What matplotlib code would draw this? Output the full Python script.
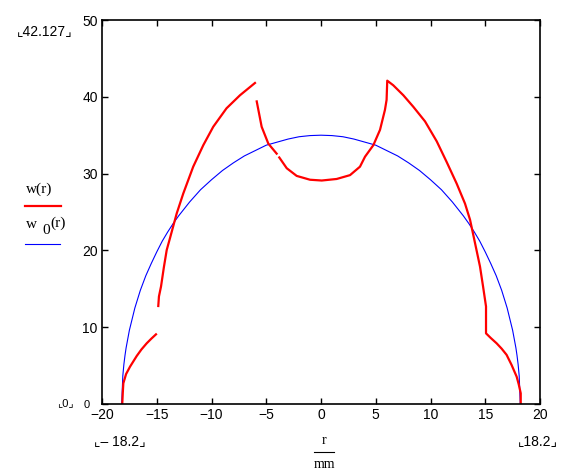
import numpy as np
import matplotlib.pyplot as plt

# w(r) - red curve, nan = gap in the plotted trace
r_w = [-18.15, -18.1, -18.05, -17.8, -17.44, -16.83, -16.4, -15.92, -15.5, -15.07, np.nan,
       -14.86, -14.8, -14.61, -14.35, -14.09, -13.79, -13.18, -12.58, -11.67, -10.75, -9.84, -8.63,
       -7.4, -6.03, np.nan,
       -5.87, -5.42, -4.81, -4.05, np.nan,
       -3.81, -3.13, -2.22, -1.0, 0.07, 1.43, 2.65, 3.56, 4.02, 4.78, 5.39, 5.84, 5.99, 6.05,
       6.6, 7.52, 8.43, 9.5, 10.57, 11.48, 12.39, 13.15, 13.61, 13.97, 14.52, 14.8, 15.07,
       15.07, 15.5, 16.04, 16.5, 16.95, 17.4, 17.87, 18.05, 18.24, 18.24]
w_r = [0, 1.5, 2.7, 3.9, 4.86, 6.25, 7.1, 7.9, 8.5, 9.07, np.nan,
       12.76, 14.0, 15.3, 17.8, 20.05, 21.6, 24.8, 27.4, 30.9, 33.7, 36.1, 38.5,
       40.2, 41.8, np.nan,
       39.4, 36.1, 33.9, 32.6, np.nan,
       32.1, 30.7, 29.7, 29.2, 29.1, 29.3, 29.8, 30.9, 32.2, 33.7, 35.7, 38.3, 39.6, 42.1,
       41.5, 40.2, 38.7, 36.8, 34.2, 31.5, 28.7, 26.1, 24.0, 21.6, 17.9, 15.3, 12.7,
       9.2, 8.6, 7.9, 7.2, 6.4, 5.1, 3.55, 2.6, 1.4, 0]

# w0(r) - blue curve
r_w0 = [-18.2, -18.1, -18.0, -17.9, -17.8, -17.5, -17.0, -16.5, -16.0, -15.5, -15.0, -14.5, -14.0,
        -13.5, -13.0, -12.0, -11.0, -10.0, -9.0, -8.0, -7.0, -6.0, -5.0, -4.0, -3.0, -2.0, -1.0, 0.0,
        1.0, 2.0, 3.0, 4.0, 5.0, 6.0, 7.0, 8.0, 9.0, 10.0, 11.0, 12.0, 13.0, 13.5, 14.0, 14.5, 15.0,
        15.5, 16.0, 16.5, 17.0, 17.5, 17.8, 17.9, 18.0, 18.1, 18.2]
w0_r = [0, 3.66, 5.18, 6.33, 7.3, 9.6, 12.5, 14.8, 16.7, 18.3, 19.8, 21.2, 22.4,
        23.5, 24.5, 26.3, 27.9, 29.2, 30.4, 31.4, 32.3, 33.0, 33.7, 34.1, 34.5, 34.8, 34.95, 35.0,
        34.95, 34.8, 34.5, 34.1, 33.7, 33.0, 32.3, 31.4, 30.4, 29.2, 27.9, 26.3, 24.5, 23.5, 22.4, 21.2, 19.8,
        18.3, 16.7, 14.8, 12.5, 9.6, 7.3, 6.33, 5.18, 3.66, 0]

x_ticks = [-20, -15, -10, -5, 0, 5, 10, 15, 20]
y_ticks = [0, 10, 20, 30, 40, 50]

W, H = 571, 474
fig = plt.figure(figsize=(W / 100, H / 100), dpi=100)
ax = fig.add_axes([102 / W, 1 - 404 / H, 438 / W, 384 / H])

ax.plot(r_w0, w0_r, color='#0000ff', lw=0.8)
ax.plot(r_w, w_r, color='#ff0000', lw=1.6)

ax.set_xlim(-20, 20)
ax.set_ylim(0, 50)
ax.set_xticks(x_ticks)
ax.set_yticks(y_ticks)
ax.set_xticklabels([str(t).replace('-', '\u2212') for t in x_ticks],
                   family='Liberation Sans', fontsize=10)
ax.set_yticklabels([str(t) for t in y_ticks], family='Liberation Sans', fontsize=10)
ax.tick_params(direction='in', length=4, width=1, top=True, right=True, pad=3)
ax.get_yticklabels()[0].set_fontsize(8)
ax.yaxis.get_major_ticks()[0].set_pad(9)
for s in ax.spines.values():
    s.set_linewidth(1.2)

sans = ['Liberation Sans', 'DejaVu Sans']
serif = ['Liberation Serif', 'DejaVu Serif']


def ftext(x, y, s, **kw):
    fig.text(x / W, 1 - y / H, s, **kw)


# range markers
ftext(45, 31, '\u231e42.127\u231f', family=sans, fontsize=10, ha='center', va='center')
ftext(65, 403, '\u231e0\u231f', family=sans, fontsize=8, ha='center', va='center')
ftext(120, 441, '\u231e\u2013 18.2\u231f', family=sans, fontsize=10, ha='center', va='center')
ftext(538, 441, '\u231e18.2\u231f', family=sans, fontsize=10, ha='center', va='center')

# x axis label r/mm
ftext(324, 441, 'r', family=serif, fontsize=10, ha='center', va='center')
fig.add_artist(plt.Line2D([314 / W, 334 / W], [1 - 452 / H, 1 - 452 / H], color='black', lw=0.8))
ftext(324, 464, 'mm', family=serif, fontsize=10, ha='center', va='center')

# legend
ftext(26, 189, 'w(r)', family=serif, fontsize=11, ha='left', va='center')
fig.add_artist(plt.Line2D([25 / W, 61 / W], [1 - 205.5 / H, 1 - 205.5 / H], color='#ff0000', lw=1.6))
ftext(26, 225, 'w', family=serif, fontsize=11, ha='left', va='center')
ftext(42, 231, '0', family=serif, fontsize=11, ha='left', va='center')
ftext(50, 223, '(r)', family=serif, fontsize=11, ha='left', va='center')
fig.add_artist(plt.Line2D([25 / W, 60 / W], [1 - 244 / H, 1 - 244 / H], color='#0000ff', lw=0.8))

fig.savefig('out.png', dpi=100)
